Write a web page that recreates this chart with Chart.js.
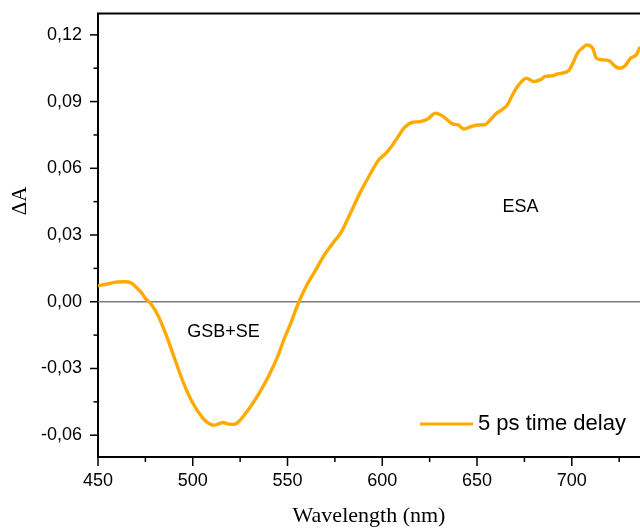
<!DOCTYPE html>
<html>
<head>
<meta charset="utf-8">
<script src="https://cdn.jsdelivr.net/npm/chart.js@4/dist/chart.umd.min.js"></script>
<style>
html,body{margin:0;padding:0;background:#fff;overflow:hidden;}
#wrap{width:640px;height:528px;position:relative;}
</style>
</head>
<body>
<div id="wrap"><canvas id="c" width="640" height="528"></canvas></div>
<script>
// Wavelength (nm)
const wavelength = [450,455,460,465,468,470,473,475,478,482,486,490,495,500,505,508,511,514,516,519,522,525,528,531,535,540,545,548,552,556,560,564,570,575,578,583,588,594,598,602,605,608,612,616,620,624,628,632,637,640,643,647,651,654,657,660,663,666,669,672,676,680,684,686,690,692,695,698.5,701,703,705.5,708,711,713,716,720,722,725,728,731,734,736];
// ΔA at 5 ps time delay
const deltaA = [0.0072,0.0080,0.0089,0.0090,0.0082,0.0066,0.0040,0.0015,-0.0010,-0.0067,-0.0150,-0.0245,-0.0362,-0.0455,-0.0520,-0.0545,-0.0555,-0.0548,-0.0543,-0.0550,-0.0551,-0.0532,-0.0500,-0.0465,-0.0412,-0.0335,-0.0242,-0.0172,-0.0090,0.0000,0.0072,0.0130,0.0218,0.0275,0.0308,0.0395,0.0485,0.0580,0.0636,0.0668,0.0700,0.0738,0.0786,0.0807,0.0810,0.0822,0.0848,0.0834,0.0800,0.0795,0.0777,0.0788,0.0795,0.0796,0.0818,0.0845,0.0863,0.0885,0.0935,0.0975,0.1005,0.0990,0.1001,0.1013,0.1016,0.1023,0.1028,0.1040,0.1080,0.1118,0.1140,0.1155,0.1140,0.1095,0.1088,0.1083,0.1065,0.1050,0.1060,0.1095,0.1110,0.1145];
const seriesLabel = '5 ps time delay';
const xMajorTicks = [450,500,550,600,650,700];
const xMinorTicks = [475,525,575,625,675,725];
const yMajorTicks = [-0.06,-0.03,0,0.03,0.06,0.09,0.12];
const yMinorTicks = [-0.045,-0.015,0.015,0.045,0.075,0.105];
const annotations = [
  {text:'GSB+SE', x:516.2, y:-0.0136},
  {text:'ESA', x:673, y:0.0426}
];
const xTitle = 'Wavelength (nm)';
const yTitle = 'ΔA';

const SANS = '"Liberation Sans", Arial, sans-serif';
const SERIF = '"Liberation Serif", "Times New Roman", serif';
const LINE_COLOR = '#FFAA00';

const decor = {
  id:'decor',
  beforeDatasetsDraw(chart){
    const {ctx, chartArea:a, scales:{x,y}} = chart;
    ctx.save();
    const y0 = y.getPixelForValue(0);
    ctx.strokeStyle = '#7a7a7a';
    ctx.lineWidth = 1.5;
    ctx.beginPath(); ctx.moveTo(a.left, y0); ctx.lineTo(a.right, y0); ctx.stroke();
    ctx.restore();
  },
  afterDraw(chart){
    const {ctx, chartArea:a, scales:{x,y}} = chart;
    ctx.save();
    ctx.strokeStyle = '#000';
    ctx.lineWidth = 2;
    // top border
    ctx.beginPath(); ctx.moveTo(a.left-1, a.top); ctx.lineTo(a.right, a.top); ctx.stroke();
    // x ticks
    ctx.lineWidth = 1.5;
    const tick = (x1,y1,x2,y2)=>{ctx.beginPath();ctx.moveTo(x1,y1);ctx.lineTo(x2,y2);ctx.stroke();};
    xMajorTicks.forEach(v=>{const px=x.getPixelForValue(v); tick(px,a.bottom,px,a.bottom+9);});
    xMinorTicks.forEach(v=>{const px=x.getPixelForValue(v); tick(px,a.bottom,px,a.bottom+5);});
    yMajorTicks.forEach(v=>{const py=y.getPixelForValue(v); tick(a.left,py,a.left-8,py);});
    yMinorTicks.forEach(v=>{const py=y.getPixelForValue(v); tick(a.left,py,a.left-4.5,py);});
    // annotations
    ctx.fillStyle = '#000';
    ctx.font = '18px ' + SANS;
    ctx.textAlign = 'center'; ctx.textBaseline = 'middle';
    annotations.forEach(t=>ctx.fillText(t.text, x.getPixelForValue(t.x), y.getPixelForValue(t.y)));
    // legend
    const ds = chart.data.datasets[0];
    ctx.strokeStyle = ds.borderColor; ctx.lineWidth = 3;
    tick(420, 424, 473, 424);
    ctx.font = '22px ' + SANS; ctx.textAlign = 'left';
    ctx.fillText(ds.label, 478, 424);
    // axis titles
    ctx.font = '22px ' + SERIF; ctx.textAlign = 'center';
    ctx.fillText(xTitle, (a.left+a.right)/2, 516);
    ctx.translate(20, 201); ctx.rotate(-Math.PI/2);
    ctx.font = '21px ' + SERIF;
    ctx.fillText(yTitle, 0, 0);
    ctx.restore();
  }
};

new Chart(document.getElementById('c'), {
  type:'line',
  data:{datasets:[{
    label: seriesLabel,
    data: wavelength.map((w,i)=>({x:w, y:deltaA[i]})),
    borderColor: LINE_COLOR, borderWidth:3.4, pointRadius:0, cubicInterpolationMode:'monotone', fill:false
  }]},
  options:{
    responsive:false, animation:false, devicePixelRatio:1,
    layout:{padding:{top:13.5,left:0,right:0,bottom:0}},
    plugins:{legend:{display:false}, tooltip:{enabled:false}},
    scales:{
      x:{type:'linear', min:450, max:736,
        grid:{display:false, drawTicks:false},
        border:{display:true, color:'#000', width:2},
        ticks:{stepSize:50, includeBounds:false, autoSkip:false, maxRotation:0, padding:13,
          color:'#000', font:{family:SANS, size:18},
          callback:v=> (v%50===0 ? String(v) : '')},
        afterFit:s=>{s.height = 71; s.paddingLeft = 0; s.paddingRight = 0;}
      },
      y:{type:'linear', min:-0.0698, max:0.1296,
        grid:{display:false, drawTicks:false},
        border:{display:true, color:'#000', width:2},
        ticks:{stepSize:0.03, includeBounds:false, padding:16, color:'#000', font:{family:SANS, size:18},
          callback:v=> v.toFixed(2).replace('.', ',')},
        afterFit:s=>{s.width = 98; s.paddingTop = 0; s.paddingBottom = 0;}
      }
    }
  },
  plugins:[decor]
});
</script>
</body>
</html>
